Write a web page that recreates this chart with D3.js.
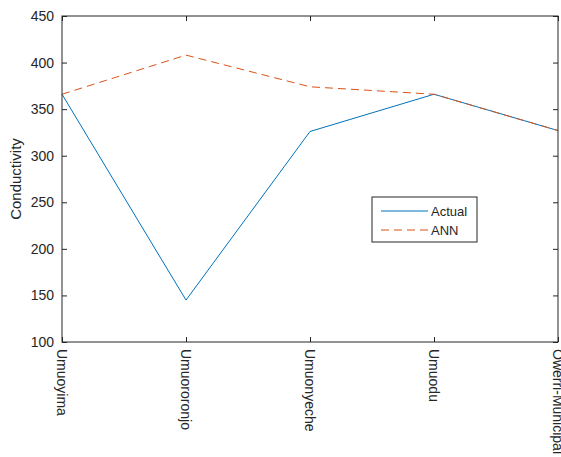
<!DOCTYPE html>
<html><head><meta charset="utf-8">
<script src="https://cdn.jsdelivr.net/npm/d3@7"></script>
<style>body{margin:0;background:#fff;} text{font-family:"Liberation Sans",Arial,sans-serif;}</style>
</head><body>
<svg id="c" width="561" height="457"></svg>
<script>
const categories = ["Umuoyima","Umuororonjo","Umuonyeche","Umuodu","Owerri-Municipal"];
const actual = [366, 145, 326, 366, 327];
const ann = [366, 408, 374, 366, 327];
const yTicks = [100,150,200,250,300,350,400,450];

const svg = d3.select("#c");
const L=62, R=558, T=16, B=342;
const x = d3.scalePoint().domain(categories).range([L,R]);
const y = d3.scaleLinear().domain([100,450]).range([B,T]);
const ax = "#262626";

const line = d3.line().x((d,i)=>x(categories[i])).y(d=>y(d));
svg.append("path").datum(actual).attr("d",line).attr("fill","none").attr("stroke","#0072BD").attr("stroke-width",1);
svg.append("path").datum(ann).attr("d",line).attr("fill","none").attr("stroke","#D95319").attr("stroke-width",1).attr("stroke-dasharray","8,5");

// box
svg.append("rect").attr("x",L).attr("y",T).attr("width",R-L).attr("height",B-T).attr("fill","none").attr("stroke",ax).attr("stroke-width",1);

const yAxis = d3.axisLeft(y).tickValues(yTicks).tickSize(-5).tickPadding(8);
const gy = svg.append("g").attr("transform",`translate(${L},0)`).call(yAxis);
gy.select(".domain").remove();
gy.selectAll("line").attr("stroke",ax);
gy.selectAll("text").attr("fill",ax).style("font-size","14px").style("font-family","'Liberation Sans',Arial,sans-serif");
const gyr = svg.append("g").attr("transform",`translate(${R},0)`).call(d3.axisRight(y).tickValues(yTicks).tickSize(-5).tickFormat(""));
gyr.select(".domain").remove(); gyr.selectAll("line").attr("stroke",ax);

const gx = svg.append("g").attr("transform",`translate(0,${B})`).call(d3.axisBottom(x).tickSize(-5).tickFormat(""));
gx.select(".domain").remove(); gx.selectAll("line").attr("stroke",ax);
const gxt = svg.append("g").attr("transform",`translate(0,${T})`).call(d3.axisTop(x).tickSize(-5).tickFormat(""));
gxt.select(".domain").remove(); gxt.selectAll("line").attr("stroke",ax);

svg.append("g").selectAll("text").data(categories).join("text")
  .attr("transform",d=>`translate(${x(d)},${B+7}) rotate(90)`)
  .attr("dy","0.35em").attr("fill",ax).style("font-size","14px").text(d=>d);

svg.append("text").attr("transform",`translate(21,${(T+B)/2}) rotate(-90)`).attr("text-anchor","middle")
  .attr("fill",ax).style("font-size","15px").text("Conductivity");

// legend
const lg = svg.append("g");
lg.append("rect").attr("x",372).attr("y",197).attr("width",105).attr("height",45).attr("fill","#fff").attr("stroke",ax).attr("stroke-width",1);
const items=[["Actual","#0072BD",null],["ANN","#D95319","8,5"]];
items.forEach((it,i)=>{
  const yy=211+i*19;
  lg.append("line").attr("x1",381).attr("x2",428).attr("y1",yy).attr("y2",yy).attr("stroke",it[1]).attr("stroke-width",1.2).attr("stroke-dasharray",it[2]);
  lg.append("text").attr("x",431).attr("y",yy).attr("dy","0.35em").attr("fill",ax).style("font-size","13px").text(it[0]);
});
</script>
</body></html>
